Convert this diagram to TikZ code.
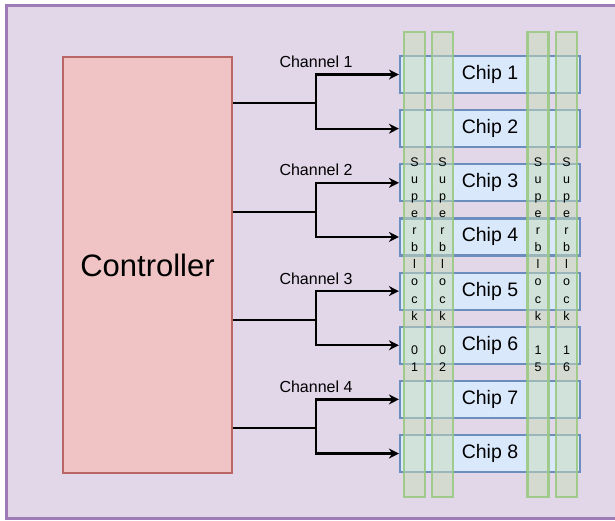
\documentclass[tikz,border=0pt]{standalone}
\usepackage{fontspec}
\setmainfont{Liberation Sans}
\usetikzlibrary{arrows.meta,positioning}

\definecolor{framefill}{RGB}{226,214,233}
\definecolor{frameline}{RGB}{158,122,182}
\definecolor{ctrlfill}{RGB}{240,196,196}
\definecolor{ctrlline}{RGB}{185,102,100}
\definecolor{chipfill}{RGB}{218,232,252}
\definecolor{chipline}{RGB}{108,142,191}
\definecolor{sbfill}{RGB}{200,222,185}
\definecolor{sbline}{RGB}{150,200,125}

\begin{document}
\begin{tikzpicture}[
  x=1pt,y=-1pt,
  >={Stealth[length=10pt,width=10pt]},
  ctrl/.style={draw=ctrlline,line width=2pt,fill=ctrlfill,
               minimum width=169pt,minimum height=416pt,
               font=\fontsize{31}{36}\selectfont},
  chip/.style={draw=chipline,line width=2.2pt,fill=chipfill,
               minimum width=180pt,minimum height=37pt,
               font=\fontsize{19.5}{23}\selectfont},
  sblock/.style={draw=sbline,draw opacity=.85,line width=2.2pt,
                 fill=sbfill,fill opacity=.5,
                 minimum width=21pt,minimum height=465pt,inner sep=0pt},
  sbtext/.style={align=center,inner sep=0pt,
                 font=\fontsize{12.5}{17.1}\selectfont},
  chlbl/.style={font=\fontsize{16}{19}\selectfont,inner sep=0pt},
  link/.style={->,line width=2.3pt},
]

% ---- page and background card ----
\useasboundingbox (0,0) rectangle (615,520);
\clip (0,0) rectangle (615,520);
\draw[frameline,line width=3pt,fill=framefill] (6,5) rectangle (630,518);

% ---- left: the controller ----
\node[ctrl] (ctrl) at (147.5,265) {Controller};

% ---- right: eight chips, one under the other ----
\foreach \i in {1,...,8}
  \node[chip] (chip\i) at (490,{74.5+54.15*(\i-1)}) {Chip \i};

% ---- channels: one trunk per pair of chips ----
\foreach \c/\y [evaluate=\c as \a using int(2*\c-1),
                evaluate=\c as \b using int(2*\c)] in {1/103,2/212,3/320,4/428} {
  \coordinate (br\c) at (316,\y);
  \draw[link] (ctrl.east |- br\c) -- (br\c) |- (chip\a.west);
  \draw[link] (br\c) |- (chip\b.west);
  \node[chlbl,above=6.5pt] (ch\c) at (br\c |- chip\a.west) {Channel \c};
}

% ---- superblock columns, laid over the chips ----
\foreach \x/\p/\q [count=\k] in {414.5/0/1,442.5/0/2,538/1/5,566.5/1/6} {
  \node[sblock] (sb\k) at (\x,264.5) {};
  \node[sbtext] (sbt\k) at (sb\k.center)
       {S\\u\\p\\e\\r\\b\\l\\o\\c\\k\\\mbox{}\\\p\\\q};
}

\end{tikzpicture}
\end{document}
